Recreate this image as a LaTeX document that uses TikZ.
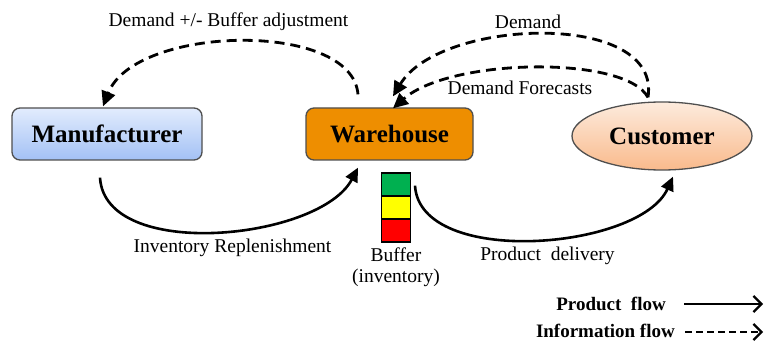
\documentclass[tikz,border=0pt]{standalone}
\usepackage{fontspec}
\setmainfont{Liberation Serif}
\usetikzlibrary{arrows.meta,shapes.geometric}

\definecolor{boxedge}{HTML}{4F4F4F}
\definecolor{manutop}{HTML}{E2ECFD}
\definecolor{manubot}{HTML}{A3C1F5}
\definecolor{whfill}{HTML}{EE8E00}
\definecolor{custtop}{HTML}{FDEBDD}
\definecolor{custbot}{HTML}{F9BA8C}
\definecolor{bufgreen}{HTML}{00B050}
\definecolor{bufyellow}{HTML}{FFFF00}
\definecolor{bufred}{HTML}{FF0000}

\tikzset{
  bigfont/.style={font=\fontsize{25}{30}\selectfont\bfseries},
  lblfont/.style={font=\fontsize{19.5}{23}\selectfont},
  legfont/.style={font=\fontsize{19}{23}\selectfont\bfseries},
  actor/.style={bigfont, draw=boxedge, line width=1.3pt, rounded corners=8pt,
                minimum height=52pt, inner sep=0pt},
  bufcell/.style={draw=black, line width=1.5pt, minimum width=29pt,
                  minimum height=23pt, inner sep=0pt},
  productflow/.style={line width=2.6pt, -{Triangle[length=14pt,width=13pt]}},
  infoflow/.style={line width=2.8pt, dash pattern=on 10pt off 6pt,
                   -{Triangle[length=15pt,width=14pt]}},
  legendarrow/.style={line width=2.2pt,
                      -{Straight Barb[length=8pt,width=16pt,line width=2.2pt]}},
}

\begin{document}
\begin{tikzpicture}[x=1pt,y=-1pt]
  \useasboundingbox (0,0) rectangle (764,342);

  % supply-chain actors
  \node[actor, minimum width=190pt, top color=manutop, bottom color=manubot]
        (man) at (107,134) {Manufacturer};
  \node[actor, minimum width=167pt, fill=whfill] (wh) at (389.5,134) {Warehouse};
  \node[ellipse, bigfont, draw=boxedge, line width=1.3pt, minimum width=180pt,
        minimum height=68pt, inner sep=0pt, top color=custtop, bottom color=custbot]
        (cust) at (662,136) {Customer};

  % buffer levels held at the warehouse
  \node[bufcell, fill=bufgreen]  (bufG) at (396,184.5) {};
  \node[bufcell, fill=bufyellow] (bufY) at (396,207.5) {};
  \node[bufcell, fill=bufred]    (bufR) at (396,230.5) {};
  \node[lblfont, align=center, inner sep=0pt] (buflbl) at (396,267)
        {Buffer\\[-2pt](inventory)};

  % product flows
  \draw[productflow] ([shift={(-7,17)}]man.south)
        .. controls (105,262) and (320,240) .. ([shift={(-31.5,7)}]wh.south);
  \draw[productflow] ([shift={(25.5,25)}]wh.south)
        .. controls (420,268) and (640,250) .. ([shift={(11,6)}]cust.south);

  % information flows
  \draw[infoflow] ([shift={(-31.5,-13)}]wh.north)
        .. controls (352,20) and (135,25) .. ([shift={(-4,-1)}]man.north);
  \draw[infoflow] ([shift={(-14,-4)}]cust.north)
        .. controls (662,10) and (440,18) .. ([shift={(3.5,-11)}]wh.north);
  \draw[infoflow] ([shift={(-14,-4)}]cust.north)
        .. controls (625,55) and (450,58) .. ([shift={(3.5,1)}]wh.north);

  % flow labels
  \node[lblfont, inner sep=0pt] (lbladj) at (228.5,22) {Demand +/- Buffer adjustment};
  \node[lblfont, inner sep=0pt] (lbldem) at (528,22) {Demand};
  \node[lblfont, inner sep=0pt] (lblfc)  at (520,88) {Demand Forecasts};
  \node[lblfont, inner sep=0pt] (lblinv) at (232.5,248) {Inventory Replenishment};
  \node[lblfont, inner sep=0pt] (lbldel) at (547.5,256) {Product\ \ delivery};

  % legend
  \node[legfont, anchor=east, inner sep=0pt] (legprod) at (666,304) {Product\ \ flow};
  \node[legfont, anchor=east, inner sep=0pt] (leginfo) at (675,331) {Information flow};
  \coordinate (legprodend) at (763,304);
  \coordinate (leginfoend) at (763,332);
  \draw[legendarrow] ([xshift=18pt]legprod.east) -- (legprodend);
  \draw[legendarrow, dash pattern=on 7pt off 4pt] ([xshift=10pt,yshift=-1pt]leginfo.east) -- (leginfoend);
\end{tikzpicture}
\end{document}
